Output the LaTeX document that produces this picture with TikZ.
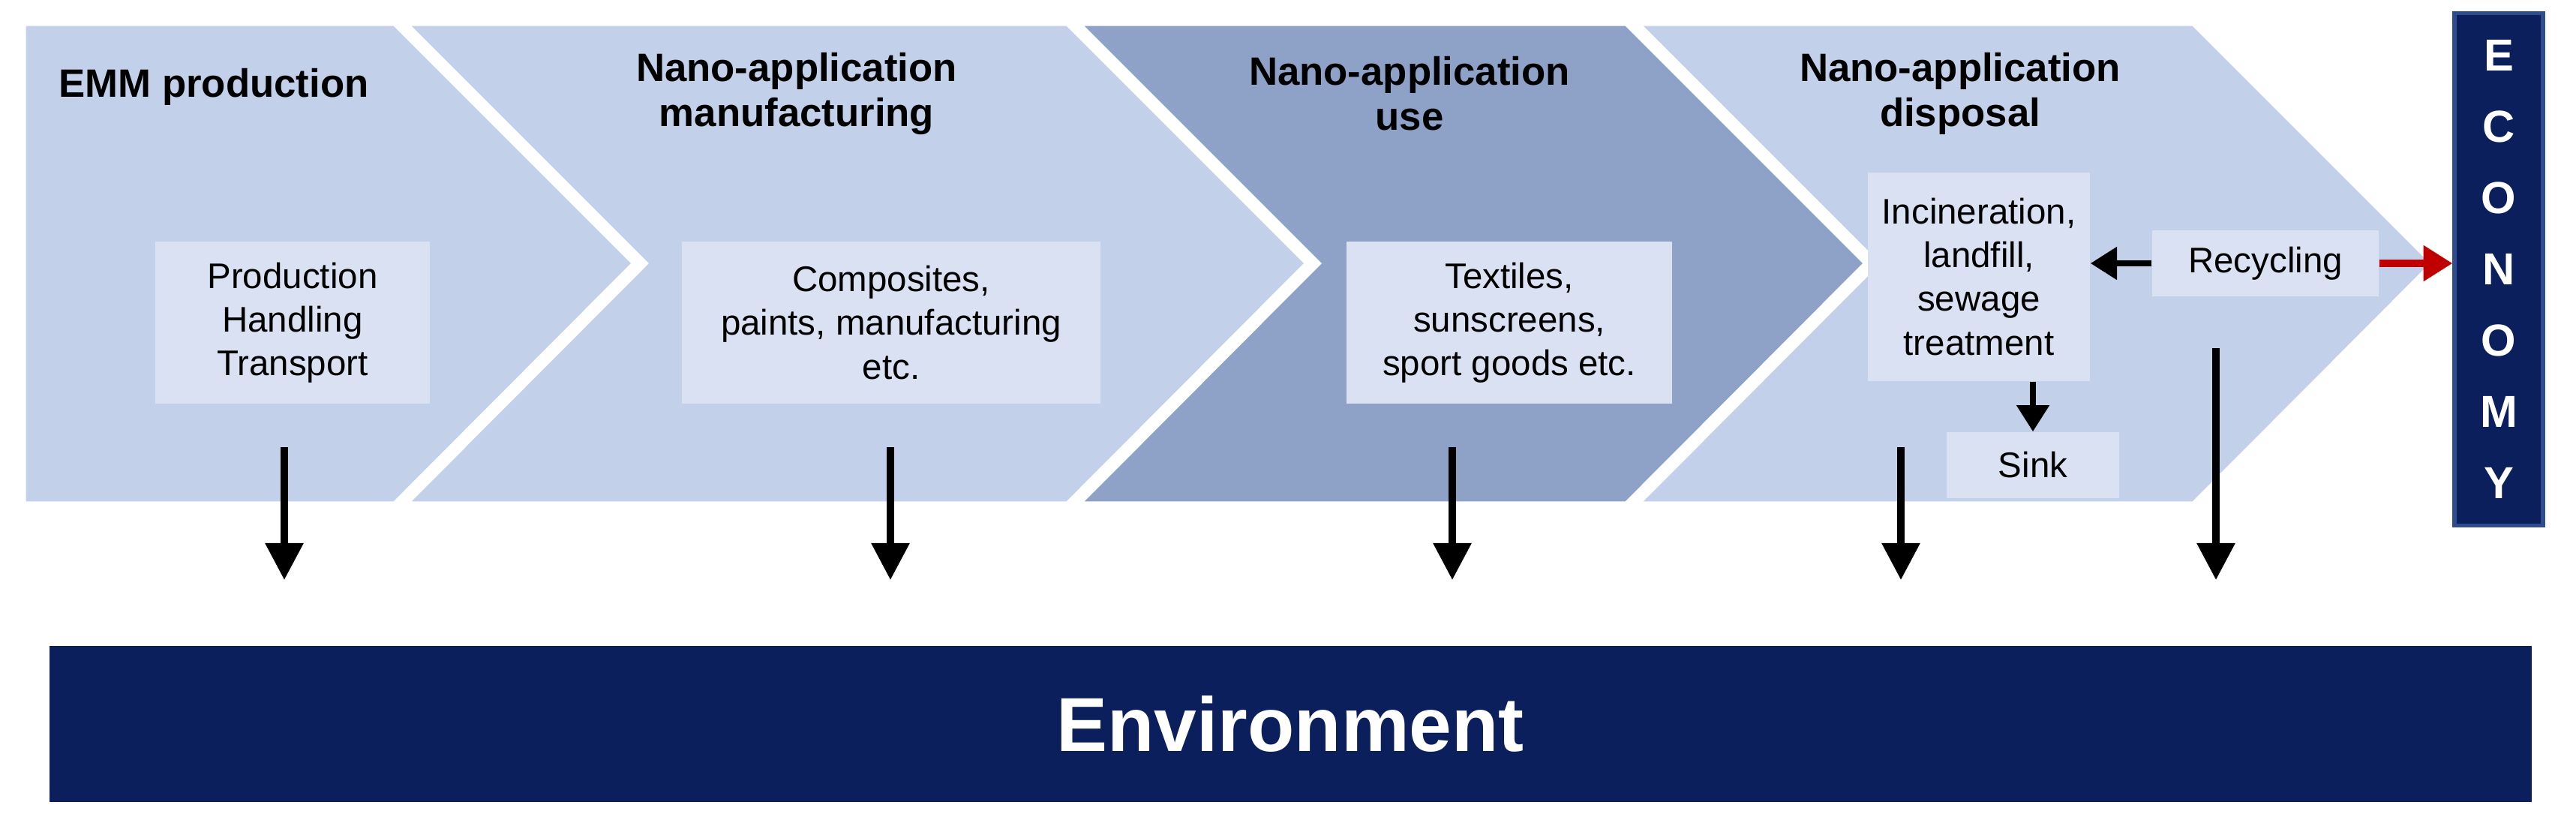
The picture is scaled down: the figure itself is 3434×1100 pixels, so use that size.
\documentclass[tikz,border=0pt]{standalone}
\usepackage{fontspec}
\setmainfont{Liberation Sans}
\usetikzlibrary{arrows.meta}
\definecolor{chevlight}{HTML}{C3D0EA}
\definecolor{chevdark}{HTML}{8EA2C8}
\definecolor{boxfill}{HTML}{D9E1F3}
\definecolor{navy}{HTML}{0A1F5C}
\definecolor{navyborder}{HTML}{2F4C8F}
\definecolor{arrred}{HTML}{C00000}
\tikzset{
  chev/.style={fill=chevlight, draw=white, line width=2pt, line join=miter},
  title/.style={font=\fontsize{15}{17}\selectfont\bfseries, align=center},
  inbox/.style={fill=boxfill, font=\fontsize{13.5}{16.5}\selectfont, align=center, inner sep=0pt},
  flow/.style={line width=2.6pt, -{Triangle[length=14pt,width=14pt]}},
}
\begin{document}
\begin{tikzpicture}[x=0.01cm,y=-0.01cm]
\useasboundingbox (0,0) rectangle (3434,1100);
% chevrons
\draw[chev] (31,31) -- (526,31) -- (846,351) -- (526,672) -- (31,672) -- cycle;
\draw[chev] (540,31) -- (1423,31) -- (1743,351) -- (1423,672) -- (540,672) -- (860,351) -- cycle;
\draw[chev, fill=chevdark] (1437,31) -- (2168,31) -- (2488,351) -- (2168,672) -- (1437,672) -- (1757,351) -- cycle;
\draw[chev] (2182,31) -- (2924,31) -- (3244,351) -- (2924,672) -- (2182,672) -- (2502,351) -- cycle;
% titles
\node[title, anchor=west] (t1) at (66,116) {EMM production};
\node[title] (t2) at (1062,125) {Nano-application\\manufacturing};
\node[title] (t3) at (1879,125) {Nano-application\\use};
\node[title] (t4) at (2613,125) {Nano-application\\disposal};
% boxes
\node[inbox, minimum width=3.66cm, minimum height=2.15cm] (b1) at (390,430) {Production\\Handling\\Transport};
\node[inbox, minimum width=5.58cm, minimum height=2.15cm] (b2) at (1188,430) {Composites,\\paints, manufacturing\\etc.};
\node[inbox, minimum width=4.33cm, minimum height=2.15cm] (b3) at (2012,430) {Textiles,\\sunscreens,\\sport goods etc.};
\node[inbox, minimum width=2.96cm, minimum height=2.78cm] (b4) at (2638,369) {Incineration,\\landfill,\\sewage\\treatment};
\node[inbox, minimum width=3.02cm, minimum height=0.87cm] (rec) at (3020,351) {Recycling};
\node[inbox, minimum width=2.30cm, minimum height=0.88cm] (sink) at (2710,620) {Sink};
% economy
\node[fill=navy, draw=navyborder, line width=1.5pt, minimum width=1.18cm, minimum height=6.82cm, font=\fontsize{17}{27}\selectfont\bfseries, text=white, align=center] (eco) at (3331,359) {E\\C\\O\\N\\O\\M\\Y};
% environment
\node[fill=navy, minimum width=33.07cm, minimum height=2.08cm, font=\fontsize{29}{33}\selectfont\bfseries, text=white] (env) at (1720,965) {Environment};
% arrows
\coordinate (a1s) at (379,596); \coordinate (a1e) at (379,773);
\coordinate (a2s) at (1187,596); \coordinate (a2e) at (1187,773);
\coordinate (a3s) at (1936,596); \coordinate (a3e) at (1936,773);
\coordinate (a4s) at (2534,596); \coordinate (a4e) at (2534,773);
\coordinate (a5s) at (2954,464); \coordinate (a5e) at (2954,773);
\foreach \i in {1,...,5} \draw[flow] (a\i s) -- (a\i e);
\draw[line width=2.2pt, -{Triangle[length=10pt,width=12pt]}] (b4.south -| sink.north) -- (sink.north);
\draw[line width=2.2pt, -{Triangle[length=10pt,width=12pt]}] (rec.west) -- (b4.east |- rec.west);
\draw[line width=2.6pt, arrred, -{Triangle[length=11pt,width=13pt]}] (rec.east) -- (eco.west |- rec.east);
\end{tikzpicture}
\end{document}
